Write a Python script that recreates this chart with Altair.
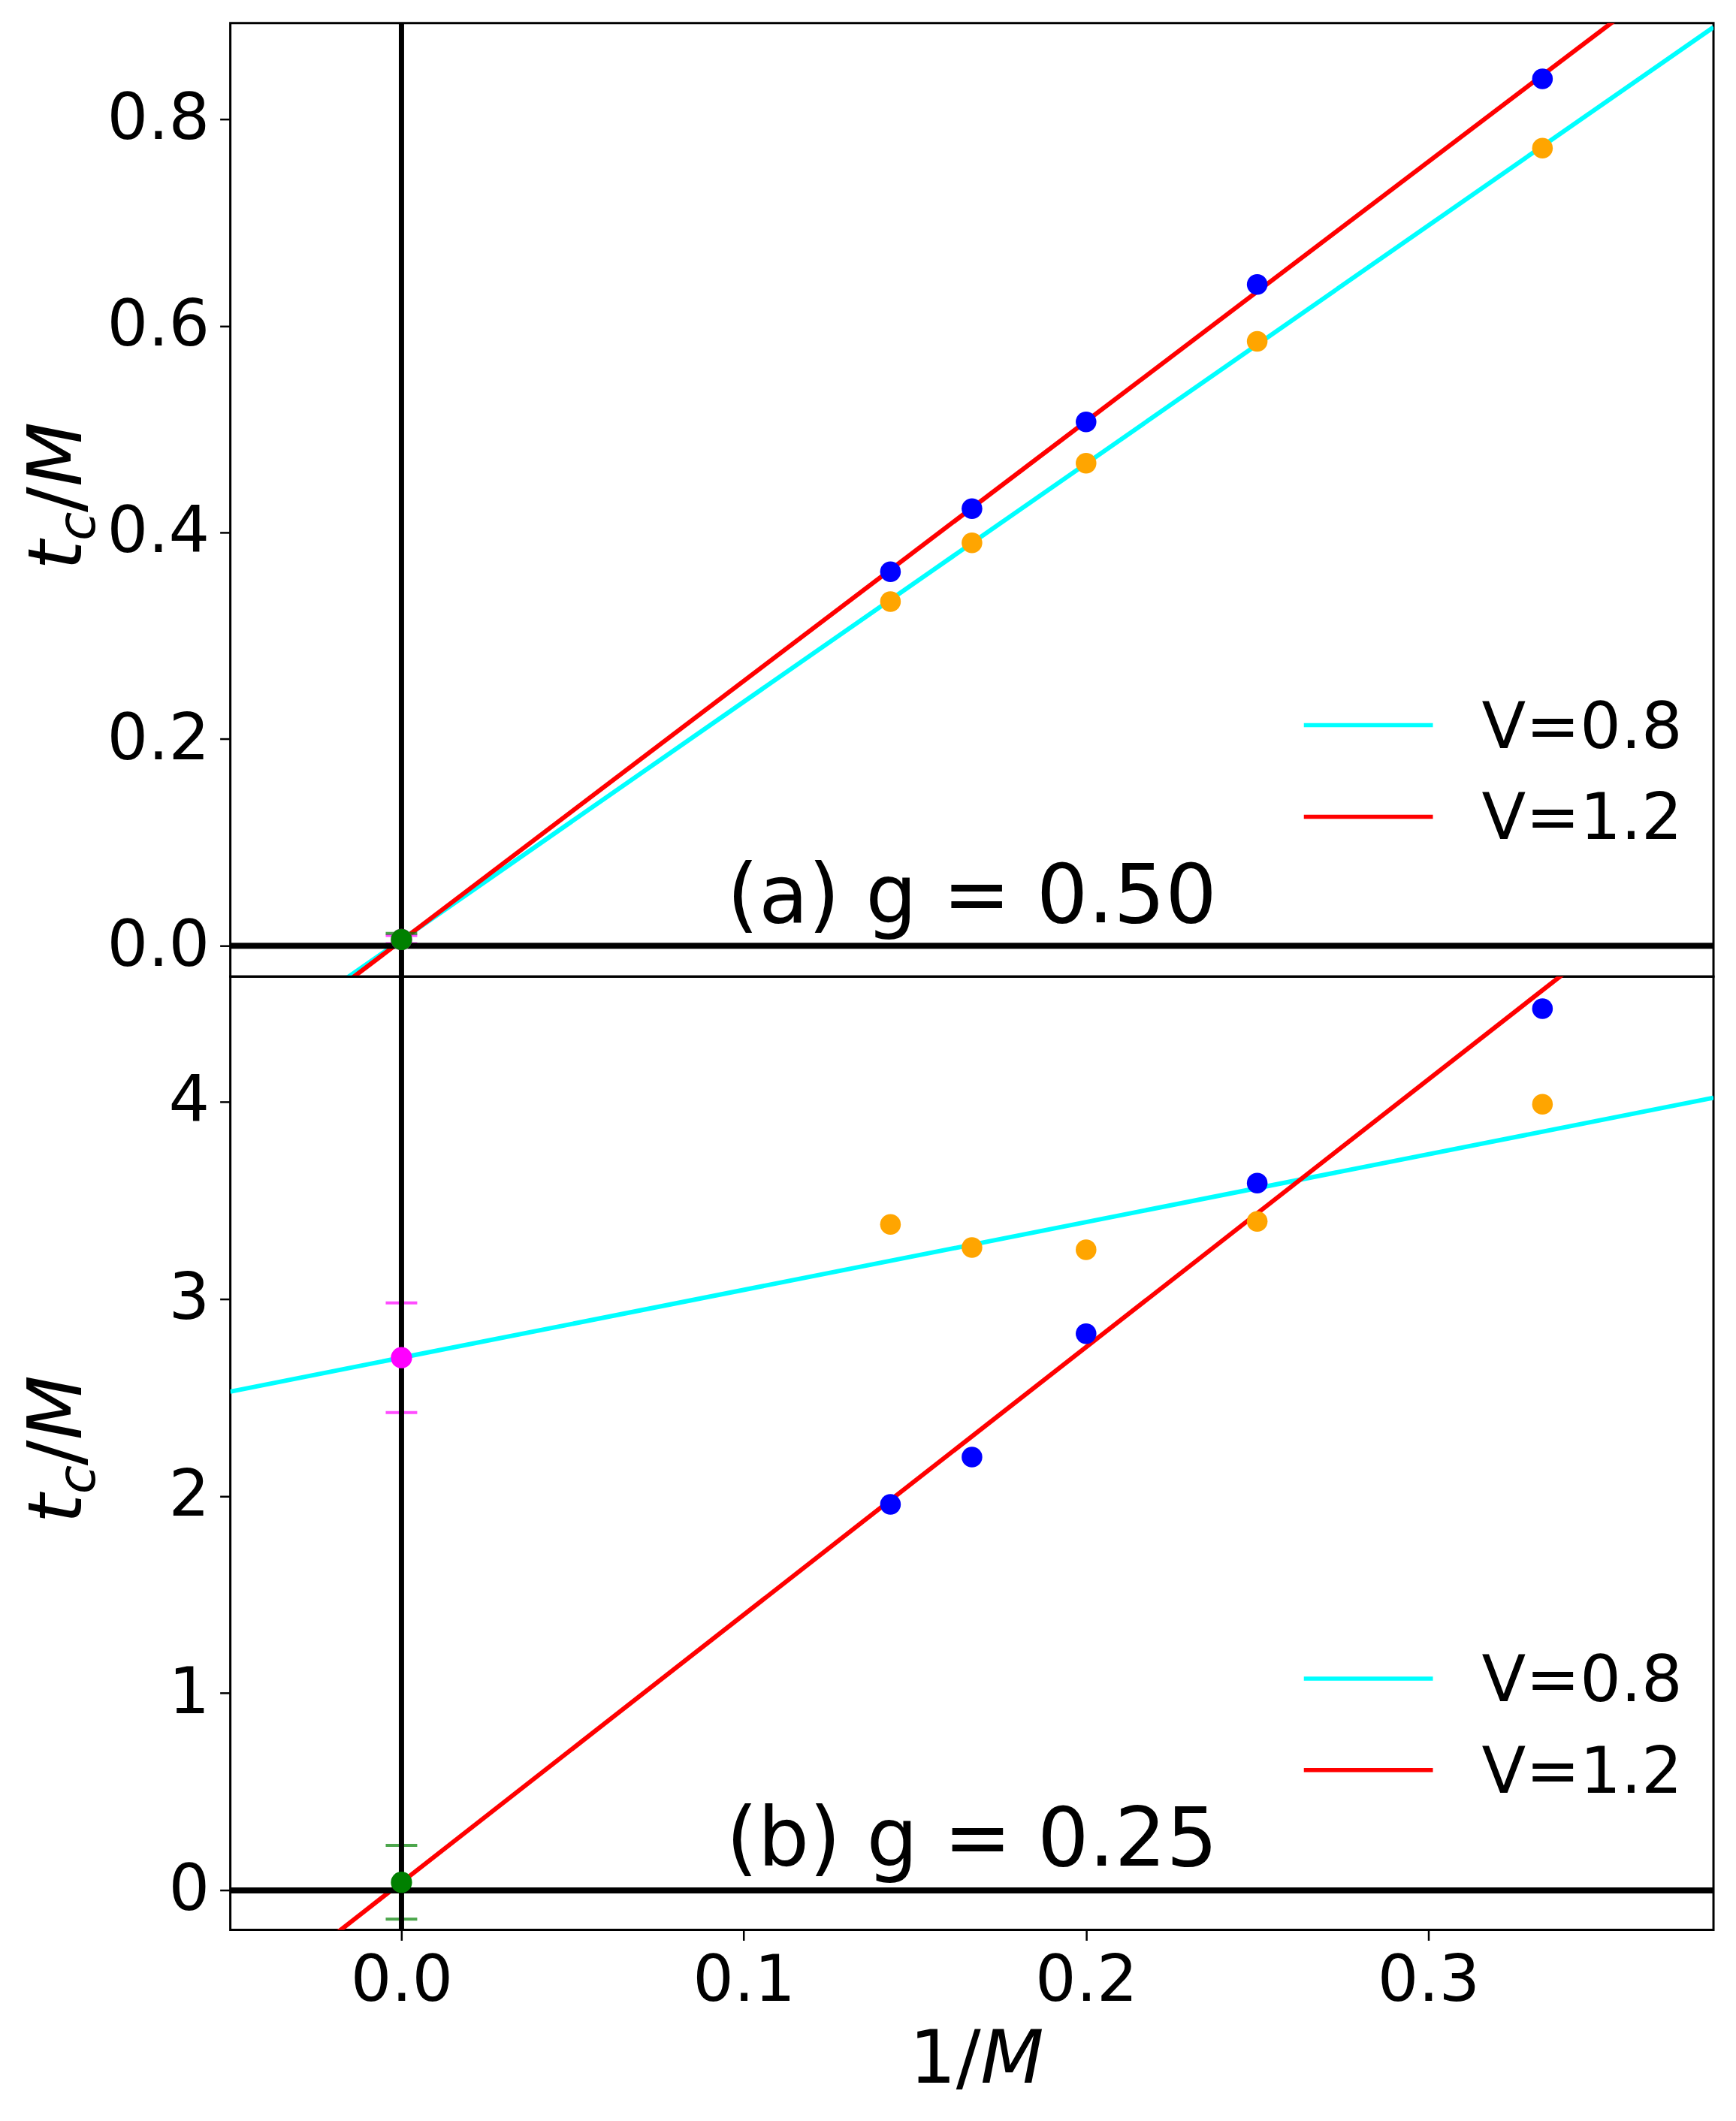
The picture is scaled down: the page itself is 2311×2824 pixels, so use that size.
import altair as alt
import pandas as pd

# ---------------- data ----------------
M_vals = [7, 6, 5, 4, 3]
inv_M = [1.0 / m for m in M_vals]

# panel (a) g = 0.50
a_V08 = [0.333, 0.390, 0.467, 0.585, 0.772]
a_V12 = [0.362, 0.423, 0.507, 0.640, 0.839]
# extrapolated values at 1/M = 0 (value, lower, upper)
a_ext_V08 = [0.006, 0.002, 0.010]
a_ext_V12 = [0.006, 0.000, 0.012]

# panel (b) g = 0.25
b_V08 = [3.377, 3.260, 3.248, 3.392, 3.986]
b_V12 = [1.957, 2.197, 2.823, 3.586, 4.471]
b_ext_V08 = [2.701, 2.423, 2.979]
b_ext_V12 = [0.041, -0.146, 0.228]

series_labels = ["V=0.8", "V=1.2"]
panel_labels = ["(a) g = 0.50", "(b) g = 0.25"]

x_domain = [-0.05, 0.3833]
x_ticks = [0.0, 0.1, 0.2, 0.3]
a_domain = [-0.0298, 0.893]
a_ticks = [0.0, 0.2, 0.4, 0.6, 0.8]
b_domain = [-0.2, 4.634]
b_ticks = [0, 1, 2, 3, 4]

FONT = "DejaVu Sans"
W = 1977
H = 1271

point_colors = {"V=0.8": "#ffa500", "V=1.2": "#0000ff"}
line_colors = {"V=0.8": "#00ffff", "V=1.2": "#ff0000"}
ext_colors = {"V=0.8": "#ff00ff", "V=1.2": "#008000"}


def make_panel(v08, v12, ext08, ext12, ydom, yticks, yfmt, label, show_x):
    pts = pd.DataFrame({
        "x": inv_M + inv_M,
        "y": v08 + v12,
        "V": [series_labels[0]] * len(inv_M) + [series_labels[1]] * len(inv_M),
    })
    ext = pd.DataFrame({
        "x": [0.0, 0.0],
        "y": [ext08[0], ext12[0]],
        "lo": [ext08[1], ext12[1]],
        "hi": [ext08[2], ext12[2]],
        "V": series_labels,
    })

    if show_x:
        xaxis = alt.Axis(values=x_ticks, format=".1f", title=None, labelFont=FONT,
                         labelFontSize=86, labelPadding=12, tickSize=14, tickWidth=2.5,
                         tickColor="black", labelColor="black", domain=False, grid=False)
    else:
        xaxis = None
    yaxis = alt.Axis(values=yticks, format=yfmt, title=None, labelFont=FONT,
                     labelFontSize=86, labelPadding=14, tickSize=14, tickWidth=2.5,
                     tickColor="black", labelColor="black", domain=False, grid=False)

    X = alt.X("x:Q", scale=alt.Scale(domain=x_domain, nice=False, zero=False), axis=xaxis)
    Y = alt.Y("y:Q", scale=alt.Scale(domain=ydom, nice=False, zero=False), axis=yaxis)

    layers = []
    # fitted lines
    for v in series_labels:
        layers.append(
            alt.Chart(pts).transform_filter(alt.datum.V == v)
            .transform_regression("x", "y", extent=x_domain)
            .mark_line(clip=True, color=line_colors[v], strokeWidth=6)
            .encode(x=X, y=Y)
        )
    # error bars of the extrapolated values
    for v in series_labels:
        e = alt.Chart(ext).transform_filter(alt.datum.V == v)
        layers.append(e.mark_rule(color=ext_colors[v], strokeWidth=4, clip=True)
                      .encode(x=X, y=alt.Y("lo:Q"), y2="hi:Q"))
        layers.append(e.mark_tick(color=ext_colors[v], orient="horizontal", size=42,
                                  thickness=4, clip=True)
                      .encode(x=X, y=alt.Y("lo:Q")))
        layers.append(e.mark_tick(color=ext_colors[v], orient="horizontal", size=42,
                                  thickness=4, clip=True)
                      .encode(x=X, y=alt.Y("hi:Q")))
    # black zero lines
    layers.append(alt.Chart(pd.DataFrame({"y": [0.0]}))
                  .mark_rule(color="black", strokeWidth=8, clip=True).encode(y=Y))
    layers.append(alt.Chart(pd.DataFrame({"x": [0.0]}))
                  .mark_rule(color="black", strokeWidth=7, clip=True).encode(x=X))
    # data points
    for v in series_labels:
        layers.append(
            alt.Chart(pts).transform_filter(alt.datum.V == v)
            .mark_circle(size=760, opacity=1, color=point_colors[v])
            .encode(x=X, y=Y)
        )
    # extrapolated points
    for v in series_labels:
        layers.append(
            alt.Chart(ext).transform_filter(alt.datum.V == v)
            .mark_circle(size=800, opacity=1, color=ext_colors[v])
            .encode(x=X, y=Y)
        )
    # legend (drawn inside the panel, lower right)
    for i, v in enumerate(series_labels):
        d = pd.DataFrame({"label": [v]})
        layers.append(alt.Chart(d).mark_rule(color=line_colors[v], strokeWidth=5.5)
                      .encode(x=alt.value(1431), x2=alt.value(1603), y=alt.value(936 + 122 * i)))
        layers.append(alt.Chart(d).mark_text(align="left", baseline="alphabetic", font=FONT,
                                             fontSize=86, color="black")
                      .encode(x=alt.value(1668), y=alt.value(966 + 122 * i), text="label:N"))
    # panel label
    layers.append(alt.Chart(pd.DataFrame({"label": [label]}))
                  .mark_text(align="center", baseline="alphabetic", font=FONT,
                             fontSize=108, color="black")
                  .encode(x=alt.value(W / 2), y=alt.value(1185 if show_x else 1199),
                          text="label:N"))
    # y-axis title  t_c / M  (rotated)
    tpieces = [("t", -199, 729, 100, "italic"),
               ("c", -181, 690, 70, "italic"),
               ("/", -199, 652, 100, "normal"),
               ("M", -199, 618, 100, "italic")]
    for txt, px, py, fs, st in tpieces:
        layers.append(alt.Chart(pd.DataFrame({"t": [txt]}))
                      .mark_text(align="left", baseline="alphabetic", angle=270, font=FONT,
                                 fontSize=fs, fontStyle=st, color="black")
                      .encode(x=alt.value(px), y=alt.value(py), text="t:N"))
    # x-axis title 1/M
    if show_x:
        layers.append(alt.Chart(pd.DataFrame({"t": ["1/"]}))
                      .mark_text(align="left", baseline="alphabetic", font=FONT,
                                 fontSize=98, color="black")
                      .encode(x=alt.value(905), y=alt.value(1475), text="t:N"))
        layers.append(alt.Chart(pd.DataFrame({"t": ["M"]}))
                      .mark_text(align="left", baseline="alphabetic", font=FONT,
                                 fontSize=98, fontStyle="italic", color="black")
                      .encode(x=alt.value(1000), y=alt.value(1475), text="t:N"))

    return alt.layer(*layers).properties(width=W, height=H)


top = make_panel(a_V08, a_V12, a_ext_V08, a_ext_V12, a_domain, a_ticks, ".1f",
                 panel_labels[0], False)
bottom = make_panel(b_V08, b_V12, b_ext_V08, b_ext_V12, b_domain, b_ticks, "d",
                    panel_labels[1], True)

chart = (
    alt.vconcat(top, bottom, spacing=0, bounds="flush")
    .properties(padding={"left": 18, "top": 19, "right": 20, "bottom": 20},
                background="white")
    .configure_view(stroke="black", strokeWidth=3)
)

chart.save("out.html", embed_options={"renderer": "svg", "actions": False})
